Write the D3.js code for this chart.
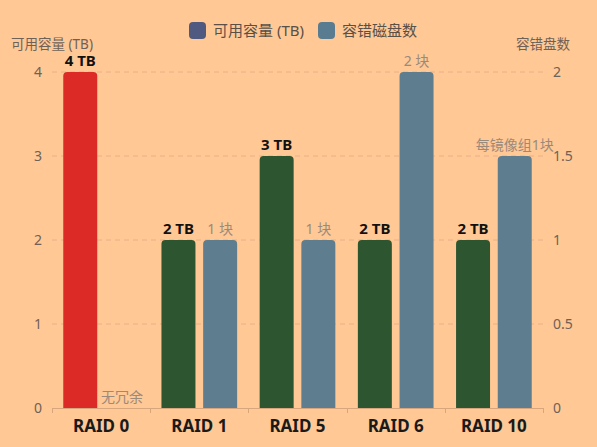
<!DOCTYPE html>
<html>
<head>
<meta charset="utf-8">
<script src="https://cdn.jsdelivr.net/npm/d3@7/dist/d3.min.js"></script>
<style>
  html, body { margin: 0; padding: 0; background: #ffc894; }
  svg { display: block; font-family: "Noto Sans", "Noto Sans CJK SC", sans-serif; }
</style>
</head>
<body>
<div id="chart"></div>
<script>
// chart data
const categories = ["RAID 0", "RAID 1", "RAID 5", "RAID 6", "RAID 10"];
const capacity = [4, 2, 3, 2, 2];               // 可用容量 (TB)
const faultTolerance = [0, 1, 1, 2, 1.5];       // 容错磁盘数
const faultLabels = ["无冗余", "1 块", "1 块", "2 块", "每镜像组1块"];
const capacityColors = ["#dc2a26", "#2c5530", "#2c5530", "#2c5530", "#2c5530"];
const leftTicks = [0, 1, 2, 3, 4];
const rightTicks = [0, 0.5, 1, 1.5, 2];
const seriesNames = ["可用容量 (TB)", "容错磁盘数"];
const legendColors = ["#505a80", "#5a7c90"];
const faultColor = "#5e7d8f";

const width = 597, height = 447;
const margin = { left: 52, right: 54, top: 72, bottom: 39 };

const svg = d3.select("#chart").append("svg")
    .attr("width", width)
    .attr("height", height);

svg.append("rect").attr("width", width).attr("height", height).attr("fill", "#ffc894");

// scales
const x = d3.scaleBand()
    .domain(categories)
    .range([margin.left, width - margin.right])
    .paddingInner(0).paddingOuter(0);

const xInner = d3.scaleBand()
    .domain(["cap", "ft"])
    .range([0, x.bandwidth()])
    .paddingInner(0.185)
    .paddingOuter(0.27);

const yLeft = d3.scaleLinear().domain([0, 4]).range([height - margin.bottom, margin.top]);
const yRight = d3.scaleLinear().domain([0, 2]).range([height - margin.bottom, margin.top]);

// grid lines (dashed)
svg.append("g")
    .selectAll("line")
    .data(leftTicks.filter(d => d > 0))
    .enter().append("line")
    .attr("x1", margin.left)
    .attr("x2", width - margin.right)
    .attr("y1", d => yLeft(d))
    .attr("y2", d => yLeft(d))
    .attr("stroke", "#eab088")
    .attr("stroke-width", 1)
    .attr("stroke-dasharray", "5,4");

// top-rounded bar path
function roundedTop(x0, y0, w, h, r) {
    if (h <= 0) return "";
    r = Math.min(r, h, w / 2);
    return `M${x0},${y0 + h}V${y0 + r}Q${x0},${y0} ${x0 + r},${y0}H${x0 + w - r}Q${x0 + w},${y0} ${x0 + w},${y0 + r}V${y0 + h}Z`;
}

const bw = xInner.bandwidth();

// capacity bars
svg.append("g")
    .selectAll("path")
    .data(categories)
    .enter().append("path")
    .attr("d", (d, i) => roundedTop(x(d) + xInner("cap"), yLeft(capacity[i]), bw, yLeft(0) - yLeft(capacity[i]), 4))
    .attr("fill", (d, i) => capacityColors[i]);

// fault tolerance bars
svg.append("g")
    .selectAll("path")
    .data(categories)
    .enter().append("path")
    .attr("d", (d, i) => roundedTop(x(d) + xInner("ft"), yRight(faultTolerance[i]), bw, yRight(0) - yRight(faultTolerance[i]), 4))
    .attr("fill", faultColor);

// capacity labels
svg.append("g")
    .selectAll("text")
    .data(categories)
    .enter().append("text")
    .attr("x", d => x(d) + xInner("cap") + bw / 2)
    .attr("y", (d, i) => yLeft(capacity[i]) - 6)
    .attr("text-anchor", "middle")
    .attr("font-size", 15)
    .attr("font-weight", "bold")
    .attr("fill", "#111")
    .text((d, i) => `${capacity[i]} TB`);

// fault tolerance labels
svg.append("g")
    .selectAll("text")
    .data(categories)
    .enter().append("text")
    .attr("x", d => x(d) + xInner("ft") + bw / 2)
    .attr("y", (d, i) => yRight(faultTolerance[i]) - 6)
    .attr("text-anchor", "middle")
    .attr("font-size", 14)
    .attr("fill", "#9a8a7c")
    .text((d, i) => faultLabels[i]);

// x axis
const xAxisY = height - margin.bottom;
svg.append("line")
    .attr("x1", margin.left).attr("x2", width - margin.right)
    .attr("y1", xAxisY + 0.5).attr("y2", xAxisY + 0.5)
    .attr("stroke", "#d8a67c");

const boundaries = categories.map(d => x(d)).concat([width - margin.right]);
svg.append("g")
    .selectAll("line")
    .data(boundaries)
    .enter().append("line")
    .attr("x1", d => Math.round(d) + 0.5).attr("x2", d => Math.round(d) + 0.5)
    .attr("y1", xAxisY).attr("y2", xAxisY + 5)
    .attr("stroke", "#d8a67c");

svg.append("g")
    .selectAll("text")
    .data(categories)
    .enter().append("text")
    .attr("x", d => x(d) + x.bandwidth() / 2)
    .attr("y", xAxisY + 24)
    .attr("text-anchor", "middle")
    .attr("font-size", 17)
    .attr("font-weight", "bold")
    .attr("fill", "#1a1a1a")
    .text(d => d);

// left y axis labels
svg.append("g")
    .selectAll("text")
    .data(leftTicks)
    .enter().append("text")
    .attr("x", margin.left - 10)
    .attr("y", d => yLeft(d))
    .attr("dy", "0.35em")
    .attr("text-anchor", "end")
    .attr("font-size", 14)
    .attr("fill", "#6e6258")
    .text(d => d);

// right y axis labels
svg.append("g")
    .selectAll("text")
    .data(rightTicks)
    .enter().append("text")
    .attr("x", width - margin.right + 10)
    .attr("y", d => yRight(d))
    .attr("dy", "0.35em")
    .attr("text-anchor", "start")
    .attr("font-size", 14)
    .attr("fill", "#6e6258")
    .text(d => d);

// axis names
svg.append("text")
    .attr("x", 52).attr("y", 49)
    .attr("text-anchor", "middle")
    .attr("font-size", 13.5)
    .attr("fill", "#6e6258")
    .text("可用容量 (TB)");

svg.append("text")
    .attr("x", 543).attr("y", 49)
    .attr("text-anchor", "middle")
    .attr("font-size", 13.5)
    .attr("fill", "#6e6258")
    .text("容错盘数");

// legend
const legend = svg.append("g").attr("transform", "translate(189,22)");
const legendX = [0, 129];
seriesNames.forEach((name, i) => {
    const g = legend.append("g").attr("transform", `translate(${legendX[i]},0)`);
    g.append("rect")
        .attr("width", 17).attr("height", 17)
        .attr("rx", 4).attr("ry", 4)
        .attr("fill", legendColors[i]);
    g.append("text")
        .attr("x", 24).attr("y", 8.5)
        .attr("dy", "0.35em")
        .attr("font-size", 15)
        .attr("fill", "#5a5048")
        .text(name);
});
</script>
</body>
</html>
